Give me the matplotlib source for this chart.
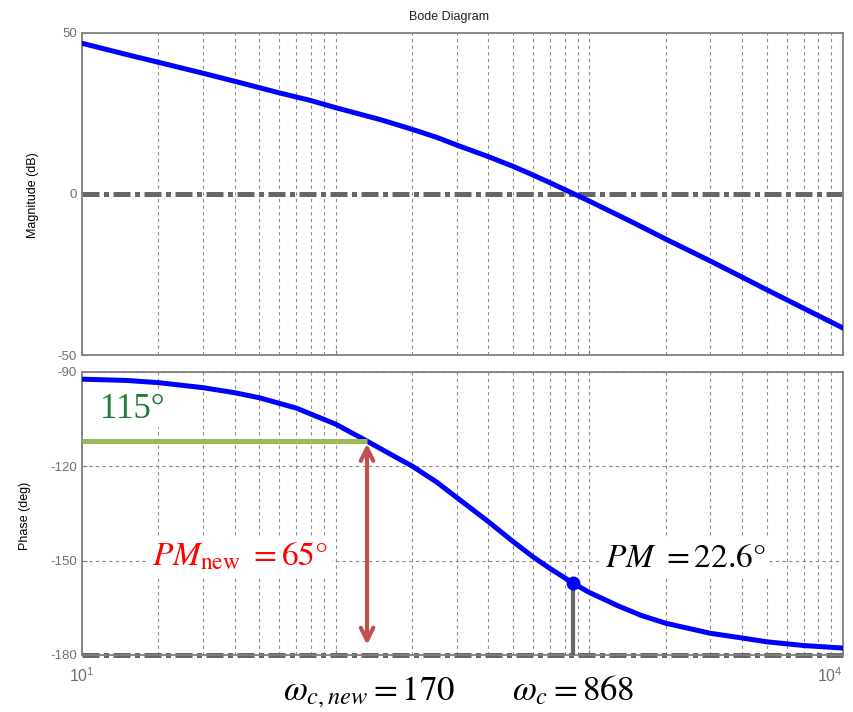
import matplotlib
matplotlib.use("Agg")
import matplotlib.pyplot as plt

plt.rcParams['font.family'] = ['Liberation Sans', 'DejaVu Sans']
plt.rcParams['mathtext.fontset'] = 'stix'
plt.rcParams['axes.unicode_minus'] = False

# magnitude curve
freq_mag = [10, 15, 20, 30, 40, 60, 80, 100, 150, 200, 250, 300, 400, 500, 600, 700,
            861, 1000, 1500, 2000, 3000, 5000, 7000, 10000]
mag_db = [46.8, 43.3, 40.9, 37.5, 35.0, 31.4, 29.0, 26.8, 23.1, 20.1, 17.6, 15.2, 11.6,
          8.6, 5.9, 3.5, 0.2, -2.2, -9.0, -14.0, -20.8, -29.7, -35.5, -41.6]

# phase curve
freq_ph = [10, 15, 20, 30, 40, 50, 70, 100, 133, 170, 200, 250, 300, 400, 500, 600, 700,
           861, 1000, 1300, 1600, 2000, 3000, 4000, 5000, 7000, 10000]
phase_deg = [-92.3, -92.7, -93.4, -95.0, -96.6, -98.2, -101.5, -106.6, -112.0, -116.8,
             -119.9, -125.0, -129.9, -137.6, -143.9, -148.8, -152.5, -157.1, -160.1,
             -164.4, -167.4, -169.9, -173.1, -174.6, -175.8, -177.0, -177.8]

# annotation values
arrow_freq = 133        # where the PM_new arrow sits
new_level = -112        # green line level
wc_marker = 861
wc_phase = -157.1

grid_kw = dict(color='#8a8a8a', linestyle=(0, (3, 3)), linewidth=0.8)
zero_kw = dict(color='#666666', linewidth=3.6, linestyle=(0, (3.4, 0.9, 1.0, 0.9)))
tick_color = '#707070'

fig = plt.figure(figsize=(8.54, 7.12), dpi=100)
ax1 = fig.add_axes([0.096, 0.5014, 0.891, 0.4523])
ax2 = fig.add_axes([0.096, 0.0801, 0.891, 0.3975])

for ax in (ax1, ax2):
    ax.set_xscale('log')
    ax.set_xlim(10, 1e4)
    ax.grid(True, which='both', axis='x', **grid_kw)
    ax.tick_params(which='both', direction='in', labelsize=9.5, labelcolor=tick_color,
                   color='#808080')
    for s in ax.spines.values():
        s.set_color('#808080')
        s.set_linewidth(1.3)

# top: magnitude
ax1.axhline(0, **zero_kw, zorder=2)
ax1.plot(freq_mag, mag_db, color='blue', linewidth=3.6, zorder=3)
ax1.set_ylim(-50, 50)
ax1.set_yticks([-50, 0, 50])
ax1.set_xticks([10, 100, 1000, 10000])
ax1.set_xticklabels([])

# bottom: phase
ax2.grid(True, which='major', axis='y', **grid_kw)
ax2.set_ylim(-180, -90)
ax2.set_yticks([-180, -150, -120, -90])
ax2.axhline(-180, **zero_kw, zorder=2, clip_on=False)
ax2.plot(freq_ph, phase_deg, color='blue', linewidth=3.6, zorder=3)
ax2.set_xticks([10, 100, 1000, 10000])
ax2.set_xticklabels([r'$\mathregular{10^1}$', '', '', r'$\mathregular{10^4}$'])
ax2.tick_params(axis='x', pad=8, labelsize=11.5)
ax2.get_xticklabels()[-1].set_horizontalalignment('right')

# annotations
ax2.plot([10, arrow_freq], [new_level, new_level], color='#9BBB59', linewidth=3.6,
         zorder=4, solid_capstyle='butt')
ax2.annotate('', xy=(arrow_freq, new_level - 0.8), xytext=(arrow_freq, -176.8),
             arrowprops=dict(arrowstyle='<->,head_length=0.9,head_width=0.45',
                             color='#C0504D', lw=3, shrinkA=0, shrinkB=0), zorder=5)
ax2.plot([wc_marker, wc_marker], [wc_phase, -180], color='#666666', linewidth=3, zorder=3)
ax2.plot(wc_marker, wc_phase, 'o', color='blue', markersize=9, zorder=4)

ax2.text(11.8, -104.6, '115°', family='Liberation Serif', fontsize=25, color='#1E7B3A',
         va='baseline', zorder=4,
         bbox=dict(facecolor='white', edgecolor='none', pad=1))
ax2.text(18.9, -151.4, r'$\mathit{PM}_{\mathrm{new}}\ = 65°$', fontsize=24, color='red',
         va='baseline', zorder=2,
         bbox=dict(facecolor='white', edgecolor='none', pad=3))
ax2.text(1151, -152, r'$\mathit{PM}\ = 22.6°$', fontsize=24, color='black',
         va='baseline', zorder=2,
         bbox=dict(facecolor='white', edgecolor='none', pad=3))

fig.text(0.331, 0.017, r'$\omega_{c,new} = 170$', fontsize=25, va='baseline')
fig.text(0.5995, 0.017, r'$\omega_{c} = 868$', fontsize=25, va='baseline')

fig.text(0.526, 0.976, 'Bode Diagram', ha='center', va='center', fontsize=9, color='#222222')
fig.text(0.0386, 0.726, 'Magnitude (dB)', rotation=90, ha='center', va='center', fontsize=9)
fig.text(0.029, 0.275, 'Phase (deg)', rotation=90, ha='center', va='center', fontsize=9)

fig.savefig('out.png', dpi=100)
